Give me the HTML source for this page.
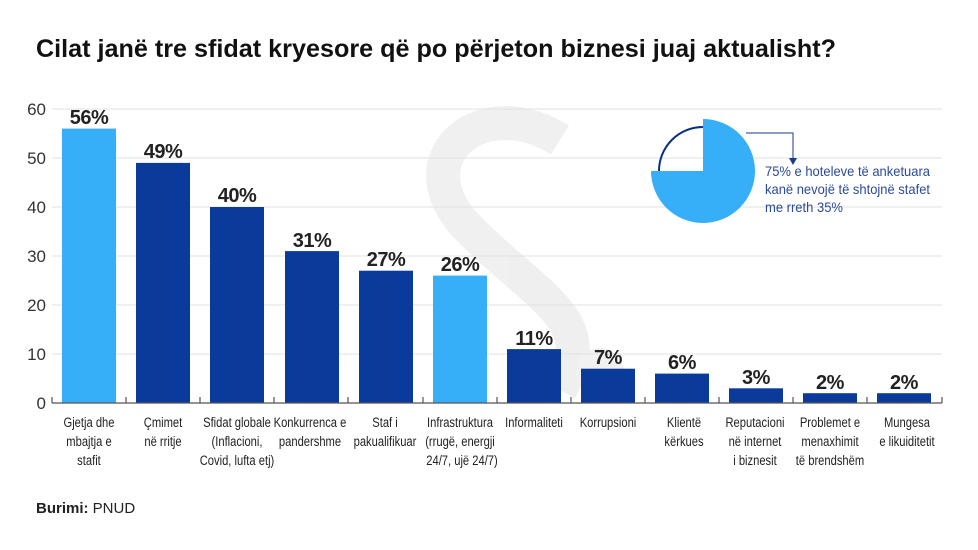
<!DOCTYPE html>
<html><head><meta charset="utf-8"><style>
html,body{margin:0;padding:0;background:#fff;}
svg{display:block;}
.lab{font-family:"Liberation Sans",sans-serif;font-size:14px;fill:#222;text-anchor:middle;}
.pct{font-family:"Liberation Sans",sans-serif;font-weight:bold;font-size:20px;fill:#222;text-anchor:middle;letter-spacing:-0.5px;}
.ax{font-family:"Liberation Sans",sans-serif;font-size:17px;fill:#333;text-anchor:end;}
</style></head><body>
<svg width="978" height="550" viewBox="0 0 978 550" xmlns="http://www.w3.org/2000/svg">
<text x="36" y="57" font-family="Liberation Sans,sans-serif" font-weight="bold" font-size="25" fill="#111" textLength="800" lengthAdjust="spacingAndGlyphs">Cilat janë tre sfidat kryesore që po përjeton biznesi juaj aktualisht?</text>
<!-- watermark -->
<g fill="none" stroke="#ececec" stroke-width="34" opacity="0.8">
<path d="M560 140 C480 90 400 160 470 230 C540 300 600 320 560 390"/>
<circle cx="600" cy="372" r="24" fill="#eee" stroke="none"/>
</g>
<!-- grid -->
<g stroke="#e2e2e2" stroke-width="1">
<line x1="52" x2="942" y1="109" y2="109"/>
<line x1="52" x2="942" y1="158" y2="158"/>
<line x1="52" x2="942" y1="207" y2="207"/>
<line x1="52" x2="942" y1="256" y2="256"/>
<line x1="52" x2="942" y1="305" y2="305"/>
<line x1="52" x2="942" y1="354" y2="354"/>
</g>
<g class="ax">
<text x="46" y="115">60</text><text x="46" y="164">50</text><text x="46" y="213">40</text>
<text x="46" y="262">30</text><text x="46" y="311">20</text><text x="46" y="360">10</text><text x="46" y="409">0</text>
</g>
<!-- bars -->
<g>
<rect x="62" y="128.6" width="54" height="274.4" fill="#36aef8"/>
<rect x="136" y="162.9" width="54" height="240.1" fill="#0a3a9a"/>
<rect x="210" y="207" width="54" height="196" fill="#0a3a9a"/>
<rect x="285" y="251.1" width="54" height="151.9" fill="#0a3a9a"/>
<rect x="359" y="270.7" width="54" height="132.3" fill="#0a3a9a"/>
<rect x="433" y="275.6" width="54" height="127.4" fill="#36aef8"/>
<rect x="507" y="349.1" width="54" height="53.9" fill="#0a3a9a"/>
<rect x="581" y="368.7" width="54" height="34.3" fill="#0a3a9a"/>
<rect x="655" y="373.6" width="54" height="29.4" fill="#0a3a9a"/>
<rect x="729" y="388.3" width="54" height="14.7" fill="#0a3a9a"/>
<rect x="803" y="393.2" width="54" height="9.8" fill="#0a3a9a"/>
<rect x="877" y="393.2" width="54" height="9.8" fill="#0a3a9a"/>
</g>
<g class="pct">
<text x="89" y="124">56%</text><text x="163" y="158">49%</text><text x="237" y="202">40%</text>
<text x="312" y="247">31%</text><text x="386" y="266">27%</text><text x="460" y="271">26%</text>
<text x="534" y="345">11%</text><text x="608" y="364">7%</text><text x="682" y="369">6%</text>
<text x="756" y="384">3%</text><text x="830" y="389">2%</text><text x="904" y="389">2%</text>
</g>
<!-- axis -->
<g stroke="#555" stroke-width="1.2">
<line x1="52" x2="942" y1="403" y2="403"/>
<line x1="52" x2="52" y1="397" y2="403"/><line x1="126" x2="126" y1="397" y2="403"/>
<line x1="200" x2="200" y1="397" y2="403"/><line x1="274" x2="274" y1="397" y2="403"/>
<line x1="348" x2="348" y1="397" y2="403"/><line x1="423" x2="423" y1="397" y2="403"/>
<line x1="497" x2="497" y1="397" y2="403"/><line x1="571" x2="571" y1="397" y2="403"/>
<line x1="645" x2="645" y1="397" y2="403"/><line x1="719" x2="719" y1="397" y2="403"/>
<line x1="793" x2="793" y1="397" y2="403"/><line x1="867" x2="867" y1="397" y2="403"/>
<line x1="942" x2="942" y1="397" y2="403"/>
</g>
<g class="lab" transform="scale(0.8,1)">
<text x="111.25" y="427">Gjetja dhe</text><text x="111.25" y="446">mbajtja e</text><text x="111.25" y="465">stafit</text>
<text x="203.75" y="427">Çmimet</text><text x="203.75" y="446">në rritje</text>
<text x="296.25" y="427">Sfidat globale</text><text x="296.25" y="446">(Inflacioni,</text><text x="296.25" y="465">Covid, lufta etj)</text>
<text x="387.5" y="427">Konkurrenca e</text><text x="387.5" y="446">pandershme</text>
<text x="481.25" y="427">Staf i</text><text x="481.25" y="446">pakualifikuar</text>
<text x="575" y="427">Infrastruktura</text><text x="575" y="446">(rrugë, energji</text><text x="577.5" y="465">24/7, ujë 24/7)</text>
<text x="667.5" y="427">Informaliteti</text>
<text x="760" y="427">Korrupsioni</text>
<text x="855" y="427">Klientë</text><text x="855" y="446">kërkues</text>
<text x="943.75" y="427">Reputacioni</text><text x="943.75" y="446">në internet</text><text x="943.75" y="465">i biznesit</text>
<text x="1037.5" y="427">Problemet e</text><text x="1037.5" y="446">menaxhimit</text><text x="1037.5" y="465">të brendshëm</text>
<text x="1133.75" y="427">Mungesa</text><text x="1133.75" y="446">e likuiditetit</text>
</g>
<!-- pie -->
<path d="M703 171 L703 119 A52 52 0 1 1 651 171 Z" fill="#36aef8"/>
<path d="M659 171 A44 44 0 0 1 703 127" fill="none" stroke="#0a2f80" stroke-width="2"/>
<path d="M746 133 H793 V160" fill="none" stroke="#1a3a8a" stroke-width="1"/>
<path d="M789 158 L797 158 L793 165 Z" fill="#1a3a8a"/>
<g font-family="Liberation Sans,sans-serif" font-size="14" fill="#2a4a9a">
<text x="765" y="176" textLength="165" lengthAdjust="spacingAndGlyphs">75% e hoteleve të anketuara</text>
<text x="765" y="194" textLength="165" lengthAdjust="spacingAndGlyphs">kanë nevojë të shtojnë stafet</text>
<text x="765" y="212" textLength="78" lengthAdjust="spacingAndGlyphs">me rreth 35%</text>
</g>
<text x="36" y="513" font-family="Liberation Sans,sans-serif" font-size="15" fill="#222"><tspan font-weight="bold">Burimi:</tspan> PNUD</text>
</svg>
</body></html>
